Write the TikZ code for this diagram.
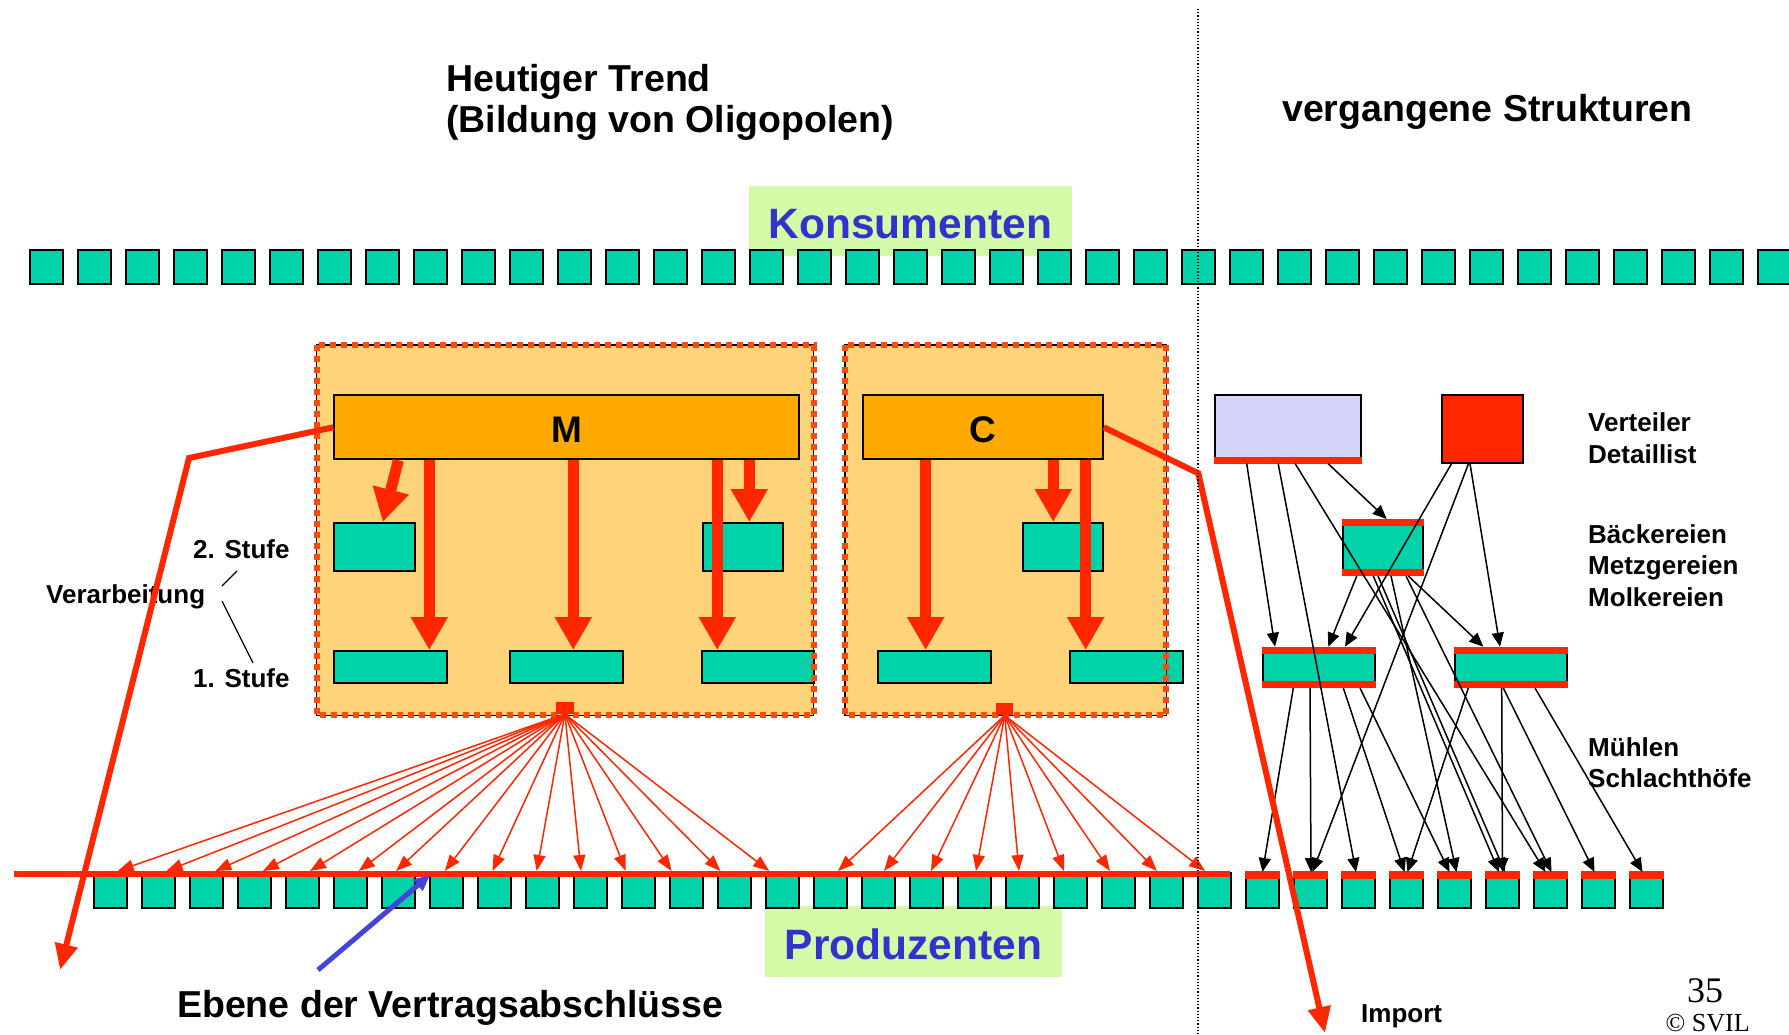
\documentclass[tikz,border=0pt]{standalone}
\usepackage{fontspec}
\setmainfont{Liberation Sans}
\newfontfamily\timesfont{Liberation Serif}
\usetikzlibrary{arrows.meta}

\definecolor{kgreen}{RGB}{0,210,170}
\definecolor{lgreen}{RGB}{214,251,168}
\definecolor{kblue}{RGB}{51,51,204}
\definecolor{korange}{RGB}{255,170,0}
\definecolor{kpale}{RGB}{255,211,122}
\definecolor{kred}{RGB}{255,38,0}
\definecolor{kdash}{RGB}{255,75,10}
\definecolor{klav}{RGB}{212,212,250}
\definecolor{parrow}{RGB}{68,68,221}

\begin{document}
\begin{tikzpicture}[x=1pt, y=-1pt,
    sq/.style={draw=black, line width=2pt, fill=kgreen, inner sep=0pt, anchor=north west},
    firm/.style={draw=black, line width=2pt, fill=korange, inner sep=0pt, anchor=north west,
        text height=30pt, font=\fontsize{37}{40}\selectfont\bfseries},
    cont/.style={fill=kpale, inner sep=0pt, anchor=north west},
    rim/.style={kdash, line width=6pt, dash pattern=on 6pt off 5pt},
    thickarrow/.style={kred, line width=11pt, -{Triangle[length=33pt,width=35pt]}},
    fan/.style={kred, line width=1.5pt, -{Triangle[length=16pt,width=12pt]}},
    blk/.style={black, line width=1.5pt, -{Triangle[length=14pt,width=12pt]}},
    bigred/.style={kred, line width=6pt, -{Triangle[length=26pt,width=22pt]}},
    tag/.style={fill=lgreen, text=kblue, inner sep=0pt, text height=36pt,
        font=\fontsize{42.5}{46}\selectfont\bfseries},
    lbl/.style={anchor=base west, inner sep=0pt, font=\fontsize{26}{30}\selectfont\bfseries},
    title/.style={anchor=base west, inner sep=0pt, font=\fontsize{37.5}{41}\selectfont\bfseries}]

    \fill[white] (0,0) rectangle (1789,1035);
    \useasboundingbox (0,0) rectangle (1789,1035);

    % Konsumenten
    \node[tag, minimum width=322.7pt, minimum height=70pt] (konsum) at (910.4,221) {Konsumenten};
    \foreach \i in {0,...,36}
        \node[sq, minimum width=33pt, minimum height=33pt] (k\i) at ({28.7+48*\i},249.5) {};

    % Produzenten
    \node[tag, minimum width=296.7pt, minimum height=70.7pt] (produz) at (913.4,941.4) {Produzenten};
    \foreach \i in {0,...,32}
        \node[sq, minimum width=33pt, minimum height=35pt] (p\i) at ({93+48*\i},872) {};
    \foreach \i in {24,...,32}
        \fill[kred] ([yshift=1pt]p\i.north west) rectangle ([yshift=-7pt]p\i.north east);

    % Ebene der Vertragsabschluesse
    \coordinate (eL) at (14,874);
    \coordinate (eR) at (1230,874);
    \draw[kred, line width=6pt] (eL) -- (eR);

    % Konzerne M und C
    \node[cont, minimum width=496.6pt, minimum height=370pt] (mcont) at (316.7,345) {};
    \node[cont, minimum width=321pt, minimum height=370pt] (ccont) at (845,345) {};
    \node[firm, minimum width=464.4pt, minimum height=64pt] (M) at (333.3,394.3) {M};
    \node[firm, minimum width=240pt, minimum height=64pt] (C) at (861.7,394.3) {C};

    % 2. und 1. Stufe
    \node[sq, minimum width=81pt, minimum height=48pt] (m2a) at (333.3,522) {};
    \node[sq, minimum width=80pt, minimum height=48pt] (m2b) at (701.7,522) {};
    \node[sq, minimum width=112.7pt, minimum height=32pt] (m1a) at (333.3,650) {};
    \node[sq, minimum width=112.7pt, minimum height=32pt] (m1b) at (509,650) {};
    \node[sq, minimum width=112.3pt, minimum height=32pt] (m1c) at (701,650) {};
    \node[sq, minimum width=80pt, minimum height=48pt] (c2) at (1021.7,522) {};
    \node[sq, minimum width=112.7pt, minimum height=32pt] (c1a) at (877.3,650) {};
    \node[sq, minimum width=112.4pt, minimum height=32pt] (c1b) at (1069.3,650) {};

    \draw[thickarrow] ([xshift=65pt]M.south west) -- ([xshift=8pt]m2a.north);
    \draw[thickarrow] ([xshift=96pt]M.south west) -- ([xshift=96pt]m1a.north west);
    \draw[thickarrow] ([xshift=240pt]M.south west) -- ([xshift=64.3pt]m1b.north west);
    \draw[thickarrow] ([xshift=384pt]M.south west) -- ([xshift=16.3pt]m1c.north west);
    \draw[thickarrow] ([xshift=416pt]M.south west) -- ([xshift=47.6pt]m2b.north west);
    \draw[thickarrow] ([xshift=64pt]C.south west) -- ([xshift=48.4pt]c1a.north west);
    \draw[thickarrow] ([xshift=191.6pt]C.south west) -- ([xshift=31.6pt]c2.north west);
    \draw[thickarrow] ([xshift=224pt]C.south west) -- ([xshift=16.4pt]c1b.north west);

    \foreach \c in {mcont,ccont} {
        \draw[black, line width=1.5pt] (\c.north west) rectangle (\c.south east);
        \draw[rim] (\c.north west) rectangle (\c.south east);
    }

    % Vertraege
    \node[fill=kred, inner sep=0pt, minimum width=18pt, minimum height=12pt, anchor=north west] (mroot) at (555.7,701.7) {};
    \node[fill=kred, inner sep=0pt, minimum width=17pt, minimum height=12pt, anchor=north west] (croot) at (996,703) {};
    \foreach \t [count=\i] in {117.7,166.5,215.3,262.9,310,358.8,396.1,444.9,492.5,536.7,581,625.7,671.6,720.4,769.2} {
        \coordinate (mt\i) at (\t,871);
        \draw[fan] (mroot.south) -- (mt\i);
    }
    \foreach \t [count=\i] in {838,884,931,976,1019,1064,1110,1157,1205} {
        \coordinate (ct\i) at (\t,871);
        \draw[fan] (croot.south) -- (ct\i);
    }

    % vergangene Strukturen
    \node[draw=black, line width=2pt, fill=klav, inner sep=0pt, minimum width=145.8pt, minimum height=67.7pt, anchor=north west] (lav) at (1214.2,394) {};
    \fill[kred] ([yshift=7pt]lav.south west) rectangle (lav.south east);
    \node[draw=black, line width=2pt, fill=kred, inner sep=0pt, minimum width=81.3pt, minimum height=67.7pt, anchor=north west] (detail) at (1440.5,394) {};
    \node[sq, minimum width=80.3pt, minimum height=55pt] (baeck) at (1342,519) {};
    \node[sq, minimum width=112pt, minimum height=39.3pt] (muehlA) at (1262,646.7) {};
    \node[sq, minimum width=112pt, minimum height=39.3pt] (muehlB) at (1454,646.7) {};
    \foreach \b in {baeck,muehlA,muehlB} {
        \fill[kred] (\b.north west) rectangle ([yshift=-7pt]\b.north east);
        \fill[kred] ([yshift=7pt]\b.south west) rectangle (\b.south east);
    }

    \draw[blk] ([xshift=32.5pt]lav.south west) -- ([xshift=13pt]muehlA.north west);
    \draw[blk] ([xshift=64pt]lav.south west) -- ([xshift=-2.5pt]p26.north);
    \draw[blk] ([xshift=81pt]lav.south west) -- ([xshift=-5pt]p30.north);
    \draw[blk] ([xshift=114pt]lav.south west) -- ([xshift=44.7pt]baeck.north west);
    \draw[blk] ([xshift=11pt]detail.south west) -- ([xshift=83pt]muehlA.north west);
    \draw[blk] ([xshift=28pt]detail.south west) -- ([xshift=2pt]p25.north);
    \draw[blk] ([xshift=29.5pt]detail.south west) -- ([xshift=46pt]muehlB.north west);
    \draw[blk] ([xshift=14.7pt]baeck.south west) -- ([xshift=66.3pt]muehlA.north west);
    \draw[blk] ([xshift=31.3pt]baeck.south west) -- ([xshift=-3.5pt]p29.north);
    \draw[blk] ([xshift=36pt]baeck.south west) -- ([xshift=2.5pt]p29.north);
    \draw[blk] ([xshift=49pt]baeck.south west) -- ([xshift=2pt]p28.north);
    \draw[blk] ([xshift=64pt]baeck.south west) -- ([xshift=1pt]p30.north);
    \draw[blk] ([xshift=66.3pt]baeck.south west) -- ([xshift=29.3pt]muehlB.north west);
    \draw[blk] ([xshift=31.3pt]muehlA.south west) -- (p24.north);
    \draw[blk] ([xshift=48pt]muehlA.south west) -- ([xshift=0.5pt]p25.north);
    \draw[blk] ([xshift=81.3pt]muehlA.south west) -- ([xshift=-2pt]p27.north);
    \draw[blk] ([xshift=98pt]muehlA.south west) -- ([xshift=-5pt]p28.north);
    \draw[blk] ([xshift=14.3pt]muehlB.south west) -- ([xshift=1pt]p27.north);
    \draw[blk] ([xshift=47.7pt]muehlB.south west) -- (p29.north);
    \draw[blk] ([xshift=49.3pt]muehlB.south west) -- ([xshift=-4pt]p31.north);
    \draw[blk] ([xshift=81pt]muehlB.south west) -- ([xshift=-4pt]p32.north);

    % Texte
    \node[title] (trend) at (446,92) {Heutiger Trend};
    \node[title] (oligo) at (446,133) {(Bildung von Oligopolen)};
    \node[title] (vergang) at (1282,122) {vergangene Strukturen};
    \node[title] (ebene) at (177,1017) {Ebene der Vertragsabschlüsse};

    \node[lbl] (vert) at (1588,431) {Verteiler};
    \node[lbl] (detl) at (1588,463) {Detaillist};
    \node[lbl] (baeckl) at (1588,543) {Bäckereien};
    \node[lbl] (metzl) at (1588,574) {Metzgereien};
    \node[lbl] (molkl) at (1588,606) {Molkereien};
    \node[lbl] (muehll) at (1588,756) {Mühlen};
    \node[lbl] (schll) at (1588,787) {Schlachthöfe};
    \node[lbl] (import) at (1361,1022) {Import};

    \node[lbl] (verarb) at (46,603) {Verarbeitung};
    \node[lbl] (stufe2) at (193,558) {2. Stufe};
    \node[lbl] (stufe1) at (193,687) {1. Stufe};
    \coordinate (va) at (222,586);
    \coordinate (vb) at (237,571);
    \coordinate (vc) at (222,601);
    \coordinate (vd) at (253,663);
    \draw[line width=1.2pt] (va) -- (vb);
    \draw[line width=1.2pt] (vc) -- (vd);

    \node[anchor=base west, inner sep=0pt, font=\timesfont\fontsize{36}{40}\selectfont] (page) at (1687,1002) {35};
    \node[anchor=base west, inner sep=0pt, font=\timesfont\fontsize{26}{30}\selectfont] (svil) at (1665.5,1031) {© SVIL};

    % Export und Import
    \coordinate (lk) at (189,458);
    \coordinate (lt) at (60,970);
    \draw[bigred] (M.west) -- (lk) -- (lt);
    \coordinate (ik) at (1198.3,473.3);
    \coordinate (it) at (1325,1033);
    \draw[bigred] (C.east) -- (ik) -- (it);

    % Pfeil zur Ebene
    \coordinate (bt) at (318,970);
    \coordinate (bh) at (430,875);
    \draw[parrow, line width=5pt, -{Triangle[length=16pt,width=14pt]}] (bt) -- (bh);

    % Trennlinie
    \coordinate (sepT) at (1198,9);
    \coordinate (sepB) at (1198,1035);
    \draw[dotted, line width=1.2pt] (sepT) -- (sepB);
\end{tikzpicture}
\end{document}
